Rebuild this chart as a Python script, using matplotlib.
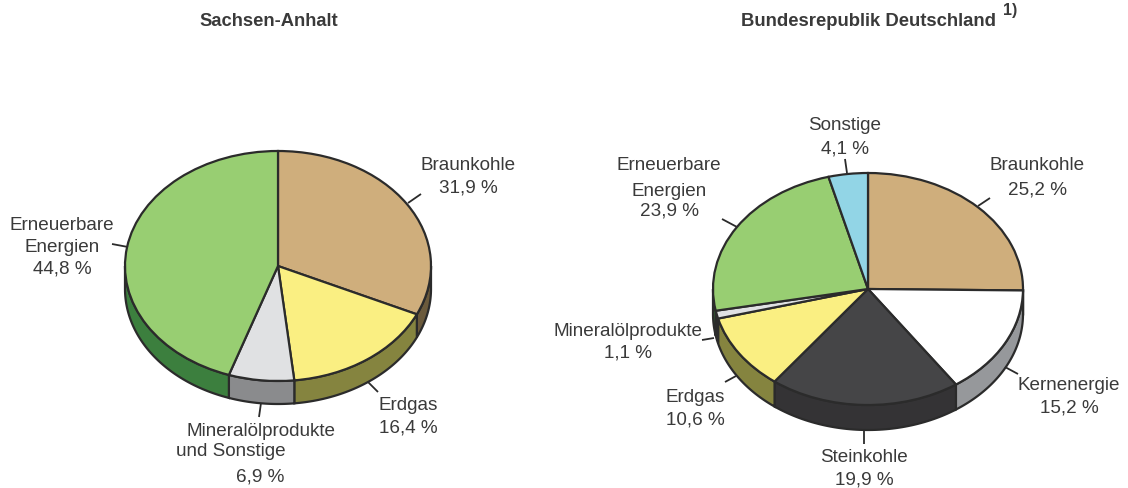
#!/usr/bin/env python3
import numpy as np
import matplotlib
matplotlib.use("Agg")
import matplotlib.pyplot as plt

plt.rcParams['font.family'] = ['Liberation Sans', 'DejaVu Sans']

W, H = 1128, 489
EDGE = "#2b2b2b"
TXT = "#3a3a3a"

# Sachsen-Anhalt
left_names = ["Braunkohle", "Erdgas", "Mineralölprodukte und Sonstige", "Erneuerbare Energien"]
left_values = [31.9, 16.4, 6.9, 44.8]
left_colors = ["#CFAE7C", "#FAEF82", "#E0E1E3", "#98CE72"]
left_walls = ["#6B5A3C", "#85843F", "#8A8B8D", "#3C7F3E"]

# Bundesrepublik
right_names = ["Braunkohle", "Kernenergie", "Steinkohle", "Erdgas", "Mineralölprodukte", "Erneuerbare Energien", "Sonstige"]
right_values = [25.2, 15.2, 19.9, 10.6, 1.1, 23.9, 4.1]
right_colors = ["#CFAE7C", "#FFFFFF", "#454547", "#FAEF82", "#E0E1E3", "#98CE72", "#92D5E6"]
right_walls = ["#6B5A3C", "#96989B", "#343335", "#85843F", "#2b2b2b", "#2f6a33", "#5f9aa8"]


def pie3d(cx, cy, rx, ry, depth, values, colors, walls):
    # axes box in pixels, data unit 1 = radius
    ax = fig.add_axes([(cx - rx) / W, 1 - (cy + ry + depth + 2) / H, 2 * rx / W, (2 * ry + depth + 2) / H])
    ax.pie(values, colors=colors, startangle=90, counterclock=False, radius=1,
           wedgeprops=dict(edgecolor=EDGE, linewidth=1.6, zorder=3), normalize=True)
    d = depth / ry
    ax.set_aspect("auto")
    ax.set_xlim(-1, 1)
    ax.set_ylim(-1 - d - 2 / ry, 1)
    for a in ax.patches:
        a.set_clip_on(False)
    # side wall, only the lower half of the ellipse is visible
    edges = 90 - np.cumsum([0] + list(values)) / np.sum(values) * 360
    for i in range(len(values)):
        a1, a2 = edges[i + 1] % 360, edges[i] % 360
        if a2 <= a1:
            a2 += 360
        for shift in (0, 360):
            lo = max(a1 + shift, 180)
            hi = min(a2 + shift, 360)
            if hi <= lo:
                continue
            t = np.radians(np.linspace(lo, hi, 60))
            xs = np.r_[np.cos(t), np.cos(t[::-1])]
            ys = np.r_[np.sin(t), np.sin(t[::-1]) - d]
            ax.fill(xs, ys, facecolor=walls[i], edgecolor=EDGE, linewidth=1.6, zorder=1, clip_on=False)
    return ax


fig = plt.figure(figsize=(W / 100, H / 100), dpi=100)

pie3d(278, 267, 153, 115, 23, left_values, left_colors, left_walls)
pie3d(868, 290, 155, 116, 25, right_values, right_colors, right_walls)

# overlay in pixel coordinates for the labels and leader lines
ov = fig.add_axes([0, 0, 1, 1], zorder=5)
ov.set_xlim(0, W)
ov.set_ylim(H, 0)
ov.axis("off")


def lab(x, y, s, ha="center", size=13.6, weight="normal"):
    ov.text(x, y, s, ha=ha, va="center", fontsize=size, fontweight=weight, color=TXT)


def leader(x0, y0, x1, y1):
    ov.plot([x0, x1], [y0, y1], color=EDGE, lw=1.3, solid_capstyle="butt")


lab(268.5, 21, "Sachsen-Anhalt", size=13.2, weight="bold")
lab(741, 21, "Bundesrepublik Deutschland", ha="left", size=13.3, weight="bold")
lab(1003, 11, "1)", ha="left", size=11.5, weight="bold")

# left pie
lab(468, 166, "Braunkohle")
lab(468, 188, "31,9 %")
lab(62, 225, "Erneuerbare")
lab(62, 247, "Energien")
lab(62, 269, "44,8 %")
lab(408, 406, "Erdgas")
lab(408, 428, "16,4 %")
lab(187, 431, "Mineralölprodukte", ha="left")
lab(176, 452, "und Sonstige", ha="left")
lab(260, 477, "6,9 %")
leader(408, 204, 421, 195)
leader(112, 245, 128, 248)
leader(368, 383, 378, 393)
leader(261, 404, 259, 418)

# right pie
lab(845, 126, "Sonstige")
lab(845, 149, "4,1 %")
lab(669, 166, "Erneuerbare")
lab(669, 191, "Energien")
lab(669, 211, "23,9 %")
lab(1037, 166, "Braunkohle")
lab(1037, 190, "25,2 %")
lab(1069, 386, "Kernenergie")
lab(1069, 408, "15,2 %")
lab(864, 457, "Steinkohle")
lab(864, 480, "19,9 %")
lab(695, 397, "Erdgas")
lab(695, 420, "10,6 %")
lab(628, 332, "Mineralölprodukte")
lab(628, 353, "1,1 %")
leader(845, 160, 847, 174)
leader(722, 220, 737, 228)
leader(978, 207, 990, 199)
leader(1005, 368, 1018, 375)
leader(864, 430, 864, 445)
leader(725, 383, 736, 377)
leader(702, 341, 714, 339)

fig.savefig("out.png", dpi=100)
